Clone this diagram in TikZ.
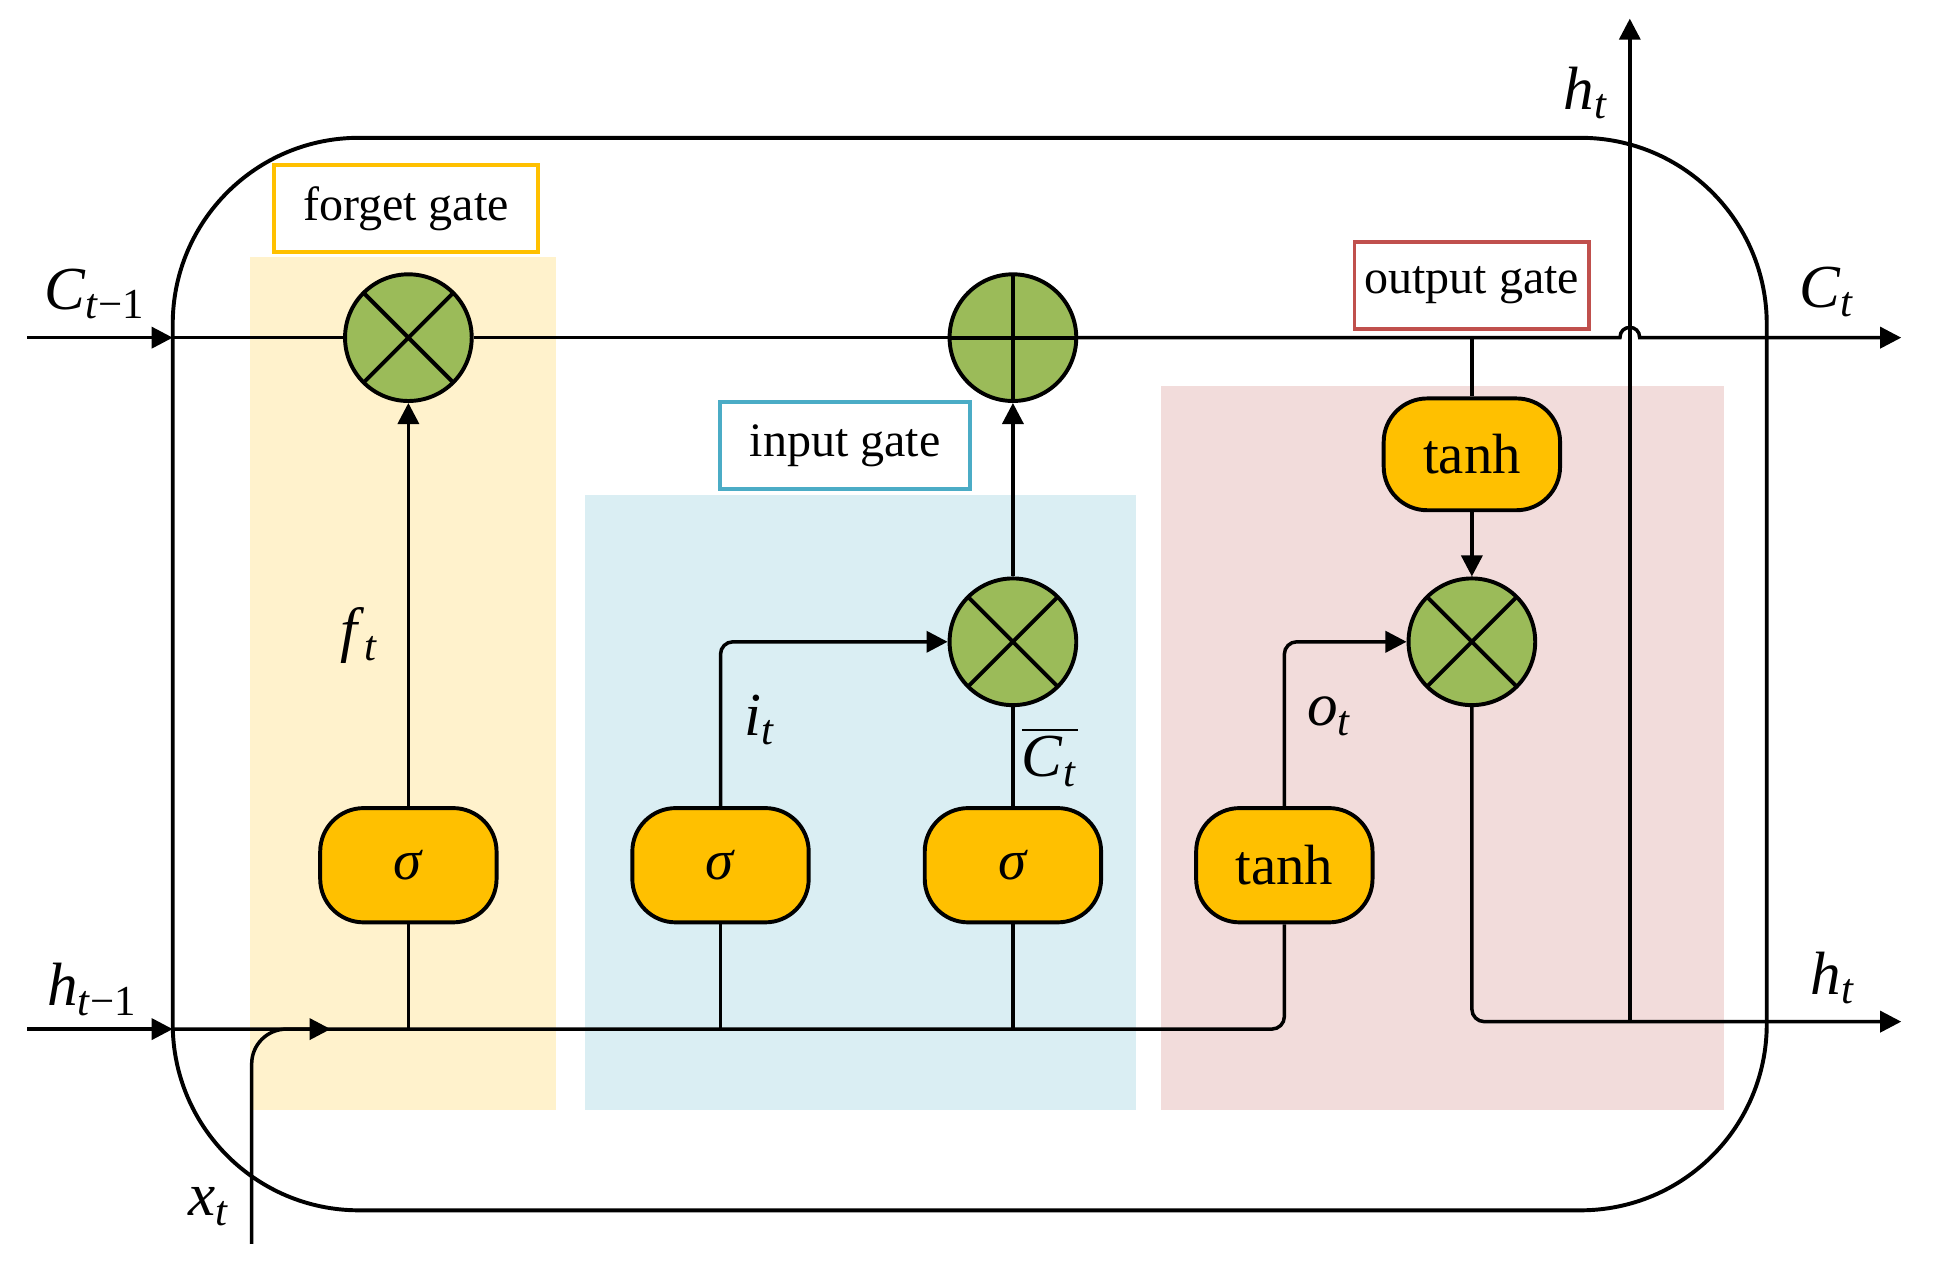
\documentclass[tikz,border=0pt]{standalone}
\usepackage{fontspec}
\setmainfont{Liberation Serif}
\usetikzlibrary{positioning, calc, arrows.meta, backgrounds}
\definecolor{gatefill}{HTML}{9BBB59}
\definecolor{actfill}{HTML}{FFC000}
\definecolor{forgetbg}{HTML}{FFF2CC}
\definecolor{inputbg}{HTML}{DAEEF3}
\definecolor{outputbg}{HTML}{F2DCDB}
\definecolor{forgetline}{HTML}{FFC000}
\definecolor{inputline}{HTML}{4BACC6}
\definecolor{outputline}{HTML}{C0504D}
\tikzset{>={Triangle[length=0.17cm, width=0.17cm]}}
\tikzset{mult/.style={circle, draw, line width=0.9pt, fill=gatefill, minimum size=1.02cm, inner sep=0pt,
  path picture={\draw[line width=0.9pt] (path picture bounding box.north west) -- (path picture bounding box.south east)
    (path picture bounding box.north east) -- (path picture bounding box.south west);}}}
\tikzset{plus/.style={mult, path picture={\draw[line width=0.9pt] (path picture bounding box.north) -- (path picture bounding box.south)
    (path picture bounding box.west) -- (path picture bounding box.east);}}}
\tikzset{actbox/.style={draw, line width=0.9pt, fill=actfill, rounded corners=0.35cm, minimum width=1.42cm,
  minimum height=0.92cm, font=\fontsize{13}{15}\selectfont}}
\tikzset{gatebox/.style={draw, line width=0.9pt, fill=white, minimum height=0.7cm, inner xsep=1pt,
  font=\fontsize{11}{13}\selectfont}}
\tikzset{lbl/.style={font=\fontsize{14}{16}\selectfont, inner sep=1pt}}
\newcommand{\sbt}[2]{\textit{#1}\textsubscript{#2}}

\begin{document}
\begin{tikzpicture}[x=0.009936cm, y=-0.01cm, line width=0.8pt]
  \useasboundingbox (0,0) rectangle (1570,1024);

  % gate zones
  \fill[forgetbg] (203,207) rectangle (451,894);
  \fill[inputbg]  (474,399) rectangle (921,894);
  \fill[outputbg] (941,311) rectangle (1397,894);

  % cell
  \draw[line width=0.9pt, rounded corners=1.5cm] (140,111) rectangle (1432,975);

  \node[gatebox, draw=forgetline, minimum width=2.13cm] (gf) at (329,168) {forget gate};
  \node[gatebox, draw=inputline, minimum width=2.01cm]  (gi) at (685,359) {input gate};
  \node[gatebox, draw=outputline, minimum width=1.89cm] (go) at (1193,230) {output gate};

  \node[actbox] (sf) at (331,697) {\textit{σ}};
  \node[actbox] (si) at (584,697) {\textit{σ}};
  \node[actbox] (sc) at (821,697) {\textit{σ}};
  \node[actbox] (to) at (1041,697) {tanh};
  \node[actbox, minimum height=0.9cm] (th) at (1193,366) {tanh};

  \node[mult] (mf) at (331,272) {};
  \node[plus] (pc) at (821,272) {};
  \node[mult] (mi) at (821,517) {};
  \node[mult] (mo) at (1193,517) {};

  \coordinate (cin)  at (22,272);
  \coordinate (cl)   at (140,272);
  \coordinate (hop1) at (1313,272);
  \coordinate (hop2) at (1329,272);
  \coordinate (cout) at (1541,272);
  \coordinate (hin0) at (22,829);
  \coordinate (hin)  at (140,829);
  \coordinate (xin)  at (204,1002);
  \coordinate (xend) at (268,829);
  \coordinate (hout) at (1541,823);
  \coordinate (hup)  at (1321,15);

  % cell state
  \draw[->] (cin) -- (cl);
  \draw (cl) -- (mf.west) (mf.east) -- (pc.west);
  \draw[->] (pc.east) -- (hop1) .. controls ($(hop1)+(0,-11)$) and ($(hop2)+(0,-11)$) .. (hop2) -- (cout);

  % hidden state and input
  \draw[->] (hin0) -- (hin);
  \draw[rounded corners=0.1cm] (hin) -- (hin -| to.south) -- (to.south);
  \draw[->, rounded corners=0.28cm] (xin) |- (xend);
  \draw (sf.south) -- (sf.south |- hin);
  \draw (si.south) -- (si.south |- hin);
  \draw (sc.south) -- (sc.south |- hin);

  % forget gate
  \draw[->] (sf.north) -- (mf.south);

  % input gate
  \draw[->, rounded corners=0.1cm] (si.north) |- (mi.west);
  \draw (sc.north) -- (mi.south);
  \draw[->] (mi.north) -- (pc.south);

  % output gate
  \draw (th.north |- cl) -- (th.north);
  \draw[->] (th.south) -- (mo.north);
  \draw[->, rounded corners=0.1cm] (to.north) |- (mo.west);
  \draw[->, rounded corners=0.1cm] (mo.south) |- (hout);
  \draw[->] (hup |- hout) -- (hup);

  % labels
  \node[lbl] (lf)  at (292,512) {\sbt{f}{\textit{t}}};
  \node[lbl] (li)  at (616,580) {\sbt{i}{\textit{t}}};
  \node[lbl] (lc)  at (851,610) {$\overline{\mbox{\textit{C}\textsubscript{\textit{t}}}}$};
  \node[lbl] (lo)  at (1078,577) {\sbt{o}{\textit{t}}};
  \node[lbl] (lc0) at (77,237) {\sbt{C}{\textit{t}−1}};
  \node[lbl] (lh0) at (75,797) {\sbt{h}{\textit{t}−1}};
  \node[lbl] (lc1) at (1481,235) {\sbt{C}{\textit{t}}};
  \node[lbl] (lh1) at (1286,75) {\sbt{h}{\textit{t}}};
  \node[lbl] (lh2) at (1486,788) {\sbt{h}{\textit{t}}};
  \node[lbl] (lx)  at (170,972) {\sbt{x}{\textit{t}}};
\end{tikzpicture}
\end{document}
